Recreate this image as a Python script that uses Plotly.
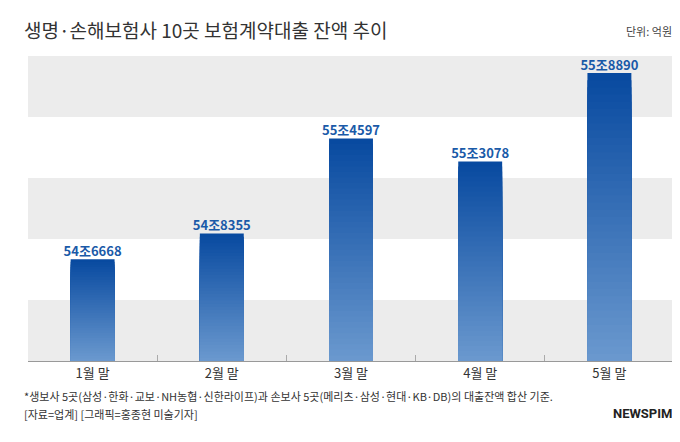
import plotly.graph_objects as go

months = ["1월 말", "2월 말", "3월 말", "4월 말", "5월 말"]
balance = [546668, 548355, 554597, 553078, 558890]  # 억원
labels = ["54조6668", "54조8355", "55조4597", "55조3078", "55조8890"]

y_min, y_max, band = 540000, 560000, 4000
n_steps = 40


def mix(c1, c2, t):
    return "rgb(%d,%d,%d)" % tuple(round(a + (b - a) * t) for a, b in zip(c1, c2))


top_col = (8, 74, 160)
bot_col = (106, 152, 206)

fig = go.Figure()

# gradient bars: overlaid bars, each one shorter and lighter than the last
for i in range(n_steps):
    t = i / (n_steps - 1)
    fig.add_trace(go.Bar(
        x=months,
        y=[(v - y_min) * (n_steps - i) / n_steps for v in balance],
        base=y_min,
        marker=dict(color=mix(top_col, bot_col, t), line=dict(width=0)),
        width=0.34, showlegend=False, hoverinfo="skip",
    ))

fig.add_trace(go.Scatter(
    x=months, y=balance, mode="text", text=["<b>%s</b>" % s for s in labels],
    textposition="top center",
    textfont=dict(size=13, color="#1a5aa8", family="Noto Sans CJK KR"),
    showlegend=False, hoverinfo="skip", cliponaxis=False,
))

for k in range(0, 5, 2):
    fig.add_shape(type="rect", xref="paper", yref="y", x0=0, x1=1,
                  y0=y_min + k * band, y1=y_min + (k + 1) * band,
                  fillcolor="#ececec", line_width=0, layer="below")

fig.update_layout(
    width=680, height=442,
    margin=dict(l=20, r=14, t=48, b=89),
    paper_bgcolor="white", plot_bgcolor="white",
    barmode="overlay",
    font=dict(family="Noto Sans CJK KR", color="#333"),
    xaxis=dict(showline=True, linecolor="#999", tickson="boundaries",
               ticks="inside", ticklen=6, tickcolor="#aaa",
               tickfont=dict(size=13, color="#333")),
    yaxis=dict(range=[y_min, y_max], visible=False),
    annotations=[
        dict(text="생명·손해보험사 10곳 보험계약대출 잔액 추이", xref="paper", yref="paper",
             x=-0.01, y=1.087, xanchor="left", yanchor="middle", showarrow=False,
             font=dict(size=19, color="#333")),
        dict(text="단위: 억원", xref="paper", yref="paper", x=1.0, y=1.082,
             xanchor="right", yanchor="middle", showarrow=False,
             font=dict(size=11, color="#444")),
        dict(text="*생보사 5곳(삼성·한화·교보·NH농협·신한라이프)과 손보사 5곳(메리츠·삼성·현대·KB·DB)의 대출잔액 합산 기준.",
             xref="paper", yref="paper", x=-0.01, y=-0.114, xanchor="left", yanchor="middle",
             align="left", showarrow=False, font=dict(size=11, color="#333")),
        dict(text="[자료=업계] [그래픽=홍종현 미술기자]",
             xref="paper", yref="paper", x=-0.01, y=-0.173, xanchor="left", yanchor="middle",
             align="left", showarrow=False, font=dict(size=11, color="#333")),
        dict(text="<b>NEWSPIM</b>", xref="paper", yref="paper", x=1.0, y=-0.173,
             xanchor="right", yanchor="middle", showarrow=False,
             font=dict(size=13, color="#222", family="Roboto")),
    ],
)

fig.write_html("out.html")
